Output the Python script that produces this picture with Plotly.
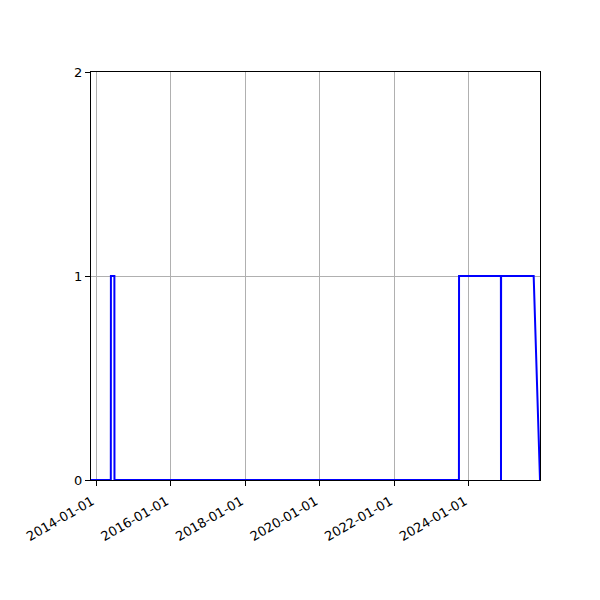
import plotly.graph_objects as go

# step-like series
dates = [
    "2013-11-13", "2014-05-26", "2014-05-27", "2014-06-30", "2014-07-01",
    "2023-09-26", "2023-09-27", "2024-11-10", "2024-11-11", "2024-11-12",
    "2025-09-27", "2025-11-28",
]
values = [0, 0, 1, 1, 0, 0, 1, 1, 0, 1, 1, 0]

x_ticks = ["2014-01-01", "2016-01-01", "2018-01-01", "2020-01-01", "2022-01-01", "2024-01-01"]
y_ticks = [0, 1, 2]

fig = go.Figure()
fig.add_trace(go.Scatter(
    x=dates, y=values, mode="lines",
    line=dict(color="#0000ff", width=2),
    cliponaxis=False, showlegend=False,
))

axis_style = dict(
    showline=True, linecolor="black", linewidth=1, mirror=True,
    ticks="outside", ticklen=5, tickcolor="black", tickwidth=1,
    showgrid=True, gridcolor="#b0b0b0", gridwidth=0.8,
    zeroline=False, tickfont=dict(family="DejaVu Sans", size=13, color="black"),
)

fig.update_xaxes(
    range=[dates[0], dates[-1]], tickvals=x_ticks, ticktext=x_ticks,
    tickangle=-30, ticklabelshift=-4, ticklabelstandoff=3, **axis_style,
)
fig.update_yaxes(range=[0, 2], tickvals=y_ticks, **axis_style)

# page body adds 8px offset, so margins are shifted to compensate
fig.update_layout(
    width=600, height=600,
    margin=dict(l=83, r=68, t=64, b=128, autoexpand=False),
    paper_bgcolor="white", plot_bgcolor="white",
)

fig.write_html("out.html")
